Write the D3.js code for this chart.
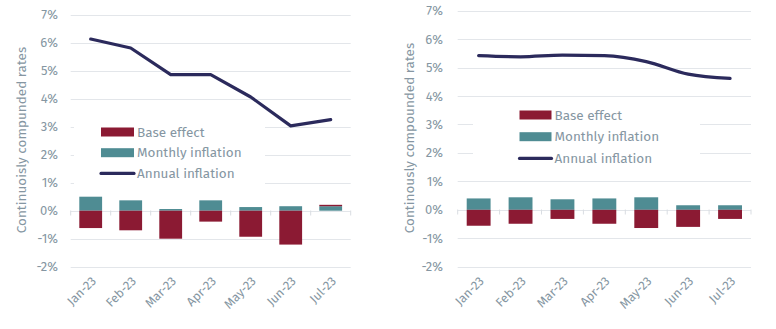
<!DOCTYPE html>
<html>
<head>
<meta charset="utf-8">
<script src="https://cdn.jsdelivr.net/npm/d3@7"></script>
<style>
  body { margin: 0; background: #fff; }
  svg { font-family: "Fira Sans", Lato, "Noto Sans", sans-serif; }
</style>
</head>
<body>
<div id="chart"></div>
<script>
// data
var months = ["Jan-23", "Feb-23", "Mar-23", "Apr-23", "May-23", "Jun-23", "Jul-23"];
var yTicks = [-2, -1, 0, 1, 2, 3, 4, 5, 6, 7];

// left panel
var baseLeft = [-0.62, -0.70, -1.00, -0.39, -0.93, -1.21, 0.05];
var monthlyLeft = [0.50, 0.37, 0.06, 0.37, 0.13, 0.16, 0.16];
var annualLeft = [6.13, 5.81, 4.86, 4.86, 4.06, 3.03, 3.25];

// right panel
var baseRight = [-0.56, -0.49, -0.32, -0.49, -0.64, -0.60, -0.32];
var monthlyRight = [0.40, 0.44, 0.37, 0.40, 0.44, 0.16, 0.16];
var annualRight = [5.42, 5.38, 5.44, 5.42, 5.21, 4.77, 4.62];

var legendLabels = ["Base effect", "Monthly inflation", "Annual inflation"];

var colBase = "#8b1a33";
var colMonthly = "#4f8c93";
var colAnnual = "#2b2a5c";
var colText = "#8596a2";
var colGrid = "#e3e6ea";

var svg = d3.select("#chart")
  .append("svg")
  .attr("width", 776)
  .attr("height", 329);

function drawPanel(opt) {
  var g = svg.append("g");

  var x = d3.scaleBand()
    .domain(months)
    .range([opt.x0, opt.x1]);

  var y = d3.scaleLinear()
    .domain([-2, 7])
    .range([opt.yBottom, opt.yTop]);

  // gridlines
  g.selectAll(".grid")
    .data(yTicks)
    .enter()
    .append("line")
    .attr("x1", opt.x0)
    .attr("x2", opt.x1)
    .attr("y1", d => Math.round(y(d)) + 0.5)
    .attr("y2", d => Math.round(y(d)) + 0.5)
    .attr("stroke", colGrid)
    .attr("stroke-width", 1);

  // y tick labels
  g.selectAll(".ylab")
    .data(yTicks)
    .enter()
    .append("text")
    .attr("x", opt.labelX)
    .attr("y", d => y(d))
    .attr("dy", "0.35em")
    .attr("text-anchor", "end")
    .attr("font-size", "13px")
    .attr("fill", colText)
    .text(d => d + "%");

  // axis title
  g.append("text")
    .attr("transform", `translate(${opt.titleX}, ${opt.titleY}) rotate(-90)`)
    .attr("text-anchor", "middle")
    .attr("dy", "0.35em")
    .attr("font-size", "13.5px")
    .attr("fill", colText)
    .text(opt.title);

  // legend box (hides gridlines behind it)
  var lg = g.append("g");
  lg.append("rect")
    .attr("x", opt.legBox[0])
    .attr("y", opt.legBox[1])
    .attr("width", opt.legBox[2])
    .attr("height", opt.legBox[3])
    .attr("fill", "#fff");

  legendLabels.forEach(function(lab, i) {
    var cy = opt.legY + i * opt.legStep;
    if (i < 2) {
      lg.append("rect")
        .attr("x", opt.legX)
        .attr("y", cy - 4.5)
        .attr("width", opt.swW)
        .attr("height", 9)
        .attr("fill", i === 0 ? colBase : colMonthly);
    } else {
      lg.append("line")
        .attr("x1", opt.legX)
        .attr("x2", opt.legX + opt.swW)
        .attr("y1", cy)
        .attr("y2", cy)
        .attr("stroke", colAnnual)
        .attr("stroke-width", 3.2)
        .attr("stroke-linecap", "round");
    }
    lg.append("text")
      .attr("x", opt.legX + opt.swW + 3)
      .attr("y", cy)
      .attr("dy", "0.35em")
      .attr("font-size", "13.5px")
      .attr("fill", colText)
      .text(lab);
  });

  // zero line tick marks at band boundaries
  var y0 = Math.round(y(0)) + 0.5;
  g.selectAll(".tick0")
    .data(months.concat(["end"]))
    .enter()
    .append("line")
    .attr("x1", (d, i) => opt.x0 + i * x.step())
    .attr("x2", (d, i) => opt.x0 + i * x.step())
    .attr("y1", y0 - 1)
    .attr("y2", y0 + 4)
    .attr("stroke", "#d9dde2");

  // stacked bars
  var rows = months.map(function(m, i) {
    return { month: m, monthly: opt.monthly[i], base: opt.base[i] };
  });
  var series = d3.stack()
    .keys(["monthly", "base"])
    .offset(d3.stackOffsetDiverging)(rows);

  var barW = x.bandwidth() * 0.57;
  g.selectAll(".series")
    .data(series)
    .enter()
    .append("g")
    .attr("fill", d => d.key === "base" ? colBase : colMonthly)
    .selectAll("rect")
    .data(d => d)
    .enter()
    .append("rect")
    .attr("x", d => x(d.data.month) + (x.bandwidth() - barW) / 2)
    .attr("y", d => y(d[1]))
    .attr("width", barW)
    .attr("height", d => y(d[0]) - y(d[1]));

  // annual inflation line
  var line = d3.line()
    .x((d, i) => x(months[i]) + x.bandwidth() / 2)
    .y(d => y(d))
    .curve(opt.curve);

  g.append("path")
    .datum(opt.annual)
    .attr("d", line)
    .attr("fill", "none")
    .attr("stroke", colAnnual)
    .attr("stroke-width", 3.2)
    .attr("stroke-linejoin", "round")
    .attr("stroke-linecap", "round");

  // x labels, rotated
  g.selectAll(".xlab")
    .data(months)
    .enter()
    .append("text")
    .attr("transform", d => `translate(${x(d) + x.bandwidth() / 2 + 3}, ${opt.yBottom + 12}) rotate(-45)`)
    .attr("text-anchor", "end")
    .attr("dy", "0.35em")
    .attr("font-size", "12.5px")
    .attr("fill", colText)
    .text(d => d);
}

drawPanel({
  x0: 70.7, x1: 350.7, yTop: 14.7, yBottom: 266.7,
  labelX: 58, titleX: 21, titleY: 140,
  title: "Continuoisly compunded rates",
  base: baseLeft, monthly: monthlyLeft, annual: annualLeft,
  curve: d3.curveLinear,
  legBox: [74, 114, 191, 72],
  legX: 101, legY: 132, legStep: 20.7, swW: 33
});

drawPanel({
  x0: 457.7, x1: 751, yTop: 10.7, yBottom: 266.7,
  labelX: 443, titleX: 409, titleY: 138,
  title: "Continously compounded rates",
  base: baseRight, monthly: monthlyRight, annual: annualRight,
  curve: d3.curveMonotoneX,
  legBox: [473, 100, 227, 75],
  legX: 519.5, legY: 115, legStep: 21.7, swW: 32
});
</script>
</body>
</html>
